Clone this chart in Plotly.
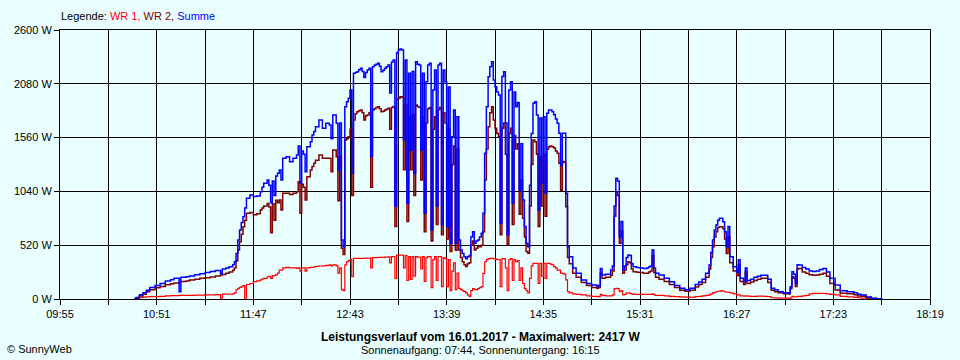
import plotly.graph_objects as go

DATE = "2017-01-16 "

times = [
    "10:38", "10:39", "10:41", "10:43", "10:45", "10:47", "10:50", "10:53", "10:56", "10:59",
    "11:01", "11:04", "11:05", "11:08", "11:10", "11:13", "11:16", "11:19", "11:22", "11:25",
    "11:28", "11:29", "11:31", "11:33", "11:35", "11:36", "11:37", "11:38", "11:39", "11:40",
    "11:41", "11:42", "11:43", "11:45", "11:47", "11:49", "11:51", "11:52", "11:53", "11:55",
    "11:56", "11:57", "11:58", "11:59", "12:00", "12:01", "12:02", "12:03", "12:04", "12:06",
    "12:08", "12:10", "12:12", "12:13", "12:14", "12:15", "12:16", "12:17", "12:18", "12:20",
    "12:21", "12:22", "12:23", "12:25", "12:27", "12:29", "12:31", "12:32", "12:33", "12:35",
    "12:36", "12:37", "12:38", "12:39", "12:40", "12:41", "12:42", "12:43", "12:44", "12:45",
    "12:46", "12:47", "12:48", "12:49", "12:50", "12:51", "12:52", "12:53", "12:54", "12:55",
    "12:56", "12:57", "12:58", "12:59", "13:00", "13:01", "13:02", "13:03", "13:04", "13:05",
    "13:06", "13:07", "13:08", "13:09", "13:10", "13:11", "13:12", "13:13", "13:14", "13:15",
    "13:16", "13:17", "13:18", "13:19", "13:20", "13:21", "13:22", "13:23", "13:24", "13:25",
    "13:26", "13:27", "13:28", "13:29", "13:30", "13:31", "13:32", "13:33", "13:34", "13:35",
    "13:36", "13:37", "13:38", "13:39", "13:40", "13:41", "13:42", "13:43", "13:44", "13:45",
    "13:46", "13:47", "13:48", "13:49", "13:50", "13:51", "13:52", "13:53", "13:54", "13:55",
    "13:56", "13:57", "13:58", "13:59", "14:00", "14:01", "14:02", "14:03", "14:04", "14:05",
    "14:06", "14:07", "14:08", "14:09", "14:10", "14:11", "14:12", "14:13", "14:14", "14:15",
    "14:16", "14:17", "14:18", "14:19", "14:20", "14:21", "14:22", "14:23", "14:24", "14:25",
    "14:26", "14:27", "14:28", "14:29", "14:30", "14:31", "14:32", "14:33", "14:34", "14:35",
    "14:36", "14:37", "14:38", "14:39", "14:40", "14:41", "14:42", "14:43", "14:44", "14:45",
    "14:46", "14:47", "14:48", "14:49", "14:50", "14:52", "14:54", "14:57", "15:00", "15:03",
    "15:06", "15:07", "15:08", "15:09", "15:11", "15:14", "15:15", "15:16", "15:17", "15:18",
    "15:19", "15:20", "15:21", "15:22", "15:23", "15:24", "15:25", "15:26", "15:27", "15:29",
    "15:31", "15:33", "15:35", "15:36", "15:37", "15:38", "15:39", "15:40", "15:42", "15:45",
    "15:48", "15:51", "15:54", "15:57", "16:00", "16:03", "16:05", "16:07", "16:09", "16:11",
    "16:12", "16:13", "16:14", "16:15", "16:16", "16:17", "16:18", "16:19", "16:20", "16:21",
    "16:22", "16:23", "16:25", "16:27", "16:28", "16:29", "16:31", "16:32", "16:33", "16:35",
    "16:37", "16:39", "16:41", "16:43", "16:45", "16:47", "16:49", "16:51", "16:54", "16:57",
    "16:58", "16:59", "17:00", "17:01", "17:02", "17:03", "17:05", "17:07", "17:09", "17:11",
    "17:13", "17:15", "17:17", "17:19", "17:21", "17:24", "17:27", "17:31", "17:35", "17:37",
    "17:39", "17:42", "17:45", "17:48", "17:51",
]

summe = [
    0, 15, 40, 60, 85, 110, 130, 150, 175, 185,
    200, 70, 210, 215, 222, 235, 245, 255, 265, 275,
    245, 290, 300, 312, 330, 360, 440, 570, 667, 740,
    795, 880, 973, 1005, 990, 995, 1037, 1080, 1118, 1150,
    1100, 930, 1140, 1000, 1190, 1215, 1247, 1150, 1360, 1375,
    1327, 1360, 1392, 1479, 1118, 1430, 1400, 1230, 1472, 1520,
    1585, 1620, 1665, 1730, 1650, 1698, 1682, 1550, 1778, 1698,
    1250, 1700, 570, 505, 1859, 1907, 1940, 2020, 1215, 2181,
    2190, 2197, 2215, 2230, 2200, 2140, 2190, 2213, 2230, 1380,
    2245, 2260, 2270, 2278, 2250, 2197, 2210, 2230, 2245, 2262,
    1990, 2290, 2310, 900, 2380, 2407, 2417, 2407, 1540, 2310,
    925, 2181, 1440, 2200, 1215, 2294, 2270, 2262, 1440, 2181,
    828, 2100, 2262, 2278, 667, 2020, 2213, 900, 2262, 2278,
    720, 2213, 2100, 699, 2050, 538, 1569, 1827, 538, 1762,
    570, 474, 440, 409, 390, 409, 420, 600, 650, 538,
    560, 570, 600, 635, 828, 1408, 1859, 2149, 2245, 2294,
    2117, 2052, 2000, 1972, 732, 2150, 2197, 1700, 620, 2020,
    2100, 925, 2000, 1859, 1900, 1050, 1500, 957, 700, 538,
    505, 1100, 1600, 1891, 1907, 1778, 860, 1750, 1118, 1762,
    1021, 1795, 1827, 1827, 1810, 1780, 1740, 1698, 1601, 1290,
    1601, 1601, 1021, 505, 409, 300, 248, 184, 151, 135,
    119, 130, 296, 232, 240, 280, 320, 900, 1166, 1140,
    600, 750, 280, 320, 400, 425, 420, 340, 312, 305,
    300, 296, 300, 312, 320, 474, 300, 250, 232, 200,
    167, 130, 105, 90, 103, 140, 165, 190, 248, 329,
    450, 570, 667, 715, 760, 780, 780, 747, 650, 505,
    700, 409, 312, 260, 380, 200, 167, 300, 180, 190,
    210, 220, 230, 230, 190, 103, 90, 71, 60, 55,
    119, 264, 240, 150, 330, 329, 305, 290, 270, 265,
    270, 285, 296, 260, 200, 135, 80, 71, 60, 45,
    39, 20, 8, 3, 0,
]

wr2 = [
    0, 10, 30, 45, 70, 90, 108, 122, 138, 148,
    155, 165, 170, 175, 184, 192, 200, 206, 212, 222,
    232, 238, 248, 262, 278, 300, 370, 474, 554, 625,
    699, 760, 828, 835, 815, 825, 860, 880, 900, 924,
    890, 640, 920, 760, 955, 930, 957, 860, 1021, 1021,
    1010, 1021, 1037, 1134, 828, 1110, 1080, 957, 1182, 1247,
    1280, 1311, 1340, 1392, 1360, 1360, 1360, 1230, 1440, 1375,
    950, 1380, 490, 430, 1537, 1550, 1569, 1640, 1000, 1730,
    1790, 1810, 1820, 1827, 1800, 1730, 1770, 1778, 1800, 1080,
    1827, 1840, 1850, 1859, 1840, 1810, 1815, 1827, 1835, 1843,
    1640, 1850, 1860, 700, 1930, 1940, 1955, 1950, 1250, 1880,
    750, 1760, 1250, 1780, 1000, 1875, 1860, 1850, 1150, 1760,
    650, 1700, 1840, 1850, 560, 1640, 1762, 720, 1830, 1850,
    620, 1800, 1700, 580, 1640, 460, 1300, 1480, 470, 1450,
    474, 400, 360, 330, 315, 340, 350, 520, 560, 474,
    490, 505, 505, 520, 650, 1150, 1450, 1665, 1800, 1859,
    1730, 1650, 1600, 1569, 620, 1650, 1700, 1400, 530, 1600,
    1650, 720, 1580, 1450, 1500, 820, 1150, 780, 600, 460,
    441, 900, 1300, 1537, 1520, 1400, 700, 1375, 900, 1400,
    800, 1450, 1472, 1480, 1472, 1460, 1430, 1408, 1311, 1050,
    1330, 1320, 892, 400, 340, 250, 210, 160, 130, 112,
    103, 110, 250, 200, 210, 230, 270, 800, 1037, 1000,
    540, 660, 248, 280, 330, 360, 350, 290, 264, 258,
    255, 248, 250, 262, 270, 420, 255, 210, 190, 170,
    140, 110, 85, 75, 85, 115, 140, 160, 210, 290,
    400, 505, 600, 650, 690, 699, 699, 680, 580, 440,
    600, 350, 270, 225, 330, 170, 140, 260, 150, 165,
    180, 190, 200, 200, 160, 85, 70, 60, 50, 48,
    100, 216, 200, 120, 290, 296, 260, 250, 235, 230,
    232, 240, 248, 220, 151, 87, 55, 50, 40, 30,
    26, 15, 5, 0, 0,
]

wr1 = [
    0, 5, 12, 18, 20, 22, 22, 25, 30, 32,
    33, 35, 35, 35, 36, 38, 38, 40, 40, 42,
    0, 48, 48, 48, 50, 60, 90, 103, 113, 120,
    130, 0, 140, 150, 167, 175, 185, 195, 200, 215,
    220, 200, 225, 225, 235, 250, 280, 280, 300, 306,
    300, 300, 296, 300, 270, 300, 300, 270, 300, 305,
    305, 310, 315, 319, 320, 325, 329, 320, 329, 320,
    250, 300, 90, 80, 330, 360, 370, 380, 215, 393,
    393, 393, 393, 393, 393, 393, 395, 395, 395, 300,
    400, 400, 400, 403, 403, 403, 403, 405, 405, 407,
    350, 409, 409, 200, 425, 425, 425, 425, 300, 420,
    180, 410, 190, 409, 220, 409, 405, 405, 290, 409,
    170, 400, 409, 409, 110, 380, 409, 180, 409, 409,
    120, 400, 390, 120, 380, 80, 270, 350, 90, 250,
    103, 90, 80, 71, 60, 40, 25, 80, 100, 90,
    90, 100, 110, 119, 248, 360, 380, 390, 393, 393,
    390, 385, 380, 380, 120, 390, 390, 300, 80, 380,
    390, 180, 380, 360, 370, 180, 300, 150, 100, 80,
    60, 200, 320, 345, 345, 345, 150, 345, 220, 345,
    200, 345, 345, 338, 330, 312, 300, 280, 280, 250,
    248, 240, 184, 71, 60, 50, 45, 39, 30, 25,
    22, 22, 45, 35, 30, 30, 40, 100, 103, 100,
    70, 80, 40, 45, 60, 60, 55, 50, 45, 45,
    45, 45, 45, 45, 45, 50, 40, 35, 35, 30,
    25, 22, 20, 18, 18, 22, 25, 30, 35, 40,
    50, 60, 65, 70, 75, 77, 80, 75, 70, 65,
    65, 60, 50, 40, 40, 30, 28, 30, 28, 25,
    25, 27, 28, 25, 22, 12, 10, 8, 8, 5,
    10, 25, 20, 20, 25, 25, 30, 35, 50, 55,
    55, 55, 55, 50, 45, 40, 25, 20, 15, 12,
    8, 4, 0, 0, 0,
]

y_tick_values = [0, 520, 1040, 1560, 2080, 2600]
y_tick_labels = ["0 W", "520 W", "1040 W", "1560 W", "2080 W", "2600 W"]
x_tick_times = ["09:55", "10:23", "10:51", "11:19", "11:47", "12:15", "12:43", "13:11",
                "13:39", "14:07", "14:35", "15:03", "15:31", "15:59", "16:27", "16:55",
                "17:23", "17:51", "18:19"]
x_tick_labels = ["09:55", "", "10:51", "", "11:47", "", "12:43", "", "13:39", "",
                 "14:35", "", "15:31", "", "16:27", "", "17:23", "", "18:19"]

BG = "#EAFFFF"
FONT = "Liberation Sans"

x = [DATE + t for t in times]

fig = go.Figure()
fig.add_trace(go.Scatter(x=x, y=wr1, mode="lines", name="WR 1",
                         line=dict(color="#FF0000", width=1.2, shape="hv")))
fig.add_trace(go.Scatter(x=x, y=wr2, mode="lines", name="WR 2",
                         line=dict(color="#800000", width=1.5, shape="hv")))
fig.add_trace(go.Scatter(x=x, y=summe, mode="lines", name="Summe",
                         line=dict(color="#0000FF", width=1.5, shape="hv")))

fig.update_layout(
    width=960, height=360, autosize=False,
    margin=dict(l=60, r=30, t=30, b=61),
    paper_bgcolor=BG, plot_bgcolor=BG,
    showlegend=False,
    font=dict(family=FONT, size=11, color="black"),
    xaxis=dict(
        type="date",
        range=[DATE + "09:55", DATE + "18:19"],
        tickmode="array",
        tickvals=[DATE + t for t in x_tick_times],
        ticktext=x_tick_labels,
        showgrid=True, gridcolor="black", gridwidth=1,
        showline=True, linecolor="black", linewidth=1, mirror=True,
        ticks="outside", ticklen=5, tickcolor="black", tickwidth=1,
        zeroline=False,
        tickfont=dict(family=FONT, size=11, color="black"),
    ),
    yaxis=dict(
        range=[0, 2600],
        tickmode="array",
        tickvals=y_tick_values,
        ticktext=y_tick_labels,
        showgrid=True, gridcolor="black", gridwidth=1,
        showline=True, linecolor="black", linewidth=1, mirror=True,
        ticks="outside", ticklen=5, tickcolor="black", tickwidth=1,
        zeroline=False,
        tickfont=dict(family=FONT, size=11, color="black"),
    ),
)

def px_to_paper_x(px):
    return (px - 60) / 870.0

def px_to_paper_y(py):
    return (299 - py) / 269.0

fig.add_annotation(
    xref="paper", yref="paper", x=px_to_paper_x(59), y=px_to_paper_y(16),
    xanchor="left", yanchor="middle", showarrow=False,
    text='Legende: <span style="color:#FF0000">WR 1,</span> '
         '<span style="color:#800000">WR 2,</span> '
         '<span style="color:#0000FF">Summe</span>',
    font=dict(family=FONT, size=11, color="black"),
)
fig.add_annotation(
    xref="paper", yref="paper", x=px_to_paper_x(480), y=px_to_paper_y(337),
    xanchor="center", yanchor="middle", showarrow=False,
    text="<b>Leistungsverlauf vom 16.01.2017 - Maximalwert: 2417 W</b>",
    font=dict(family=FONT, size=12, color="black"),
)
fig.add_annotation(
    xref="paper", yref="paper", x=px_to_paper_x(480), y=px_to_paper_y(350),
    xanchor="center", yanchor="middle", showarrow=False,
    text="Sonnenaufgang: 07:44, Sonnenuntergang: 16:15",
    font=dict(family=FONT, size=11, color="black"),
)
fig.add_annotation(
    xref="paper", yref="paper", x=px_to_paper_x(5), y=px_to_paper_y(349),
    xanchor="left", yanchor="middle", showarrow=False,
    text="© SunnyWeb",
    font=dict(family=FONT, size=11, color="black"),
)

fig.write_html(
    "out.html",
    config={"displayModeBar": False},
    post_script="document.body.style.margin='0';"
                "document.body.style.padding='0';"
                "document.body.style.background='" + BG + "';",
)
